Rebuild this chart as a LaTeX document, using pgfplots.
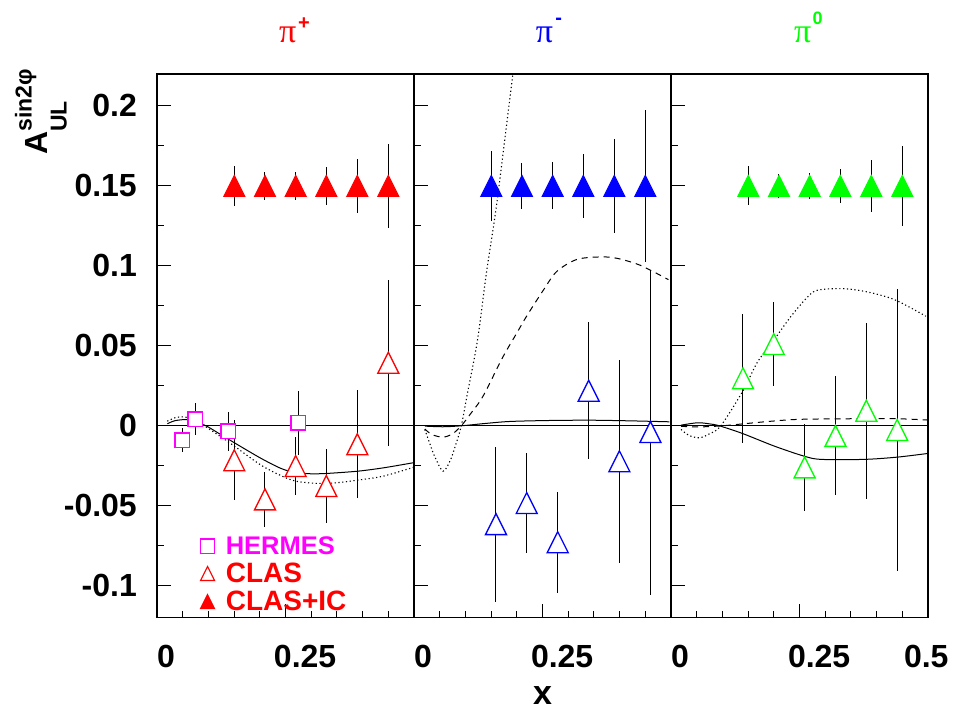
\documentclass[border=0pt]{standalone}
\usepackage{pgfplots}
\pgfplotsset{compat=1.18}
\usepackage{fontspec}
\setmainfont{Liberation Sans}
\newfontfamily\serifpi{Liberation Serif}
\newcommand\tickfont{\fontsize{32}{32}\selectfont\bfseries}
\definecolor{mag}{RGB}{255,0,255}
\definecolor{rred}{RGB}{255,0,0}
\definecolor{rblue}{RGB}{0,0,255}
\definecolor{rgreen}{RGB}{0,255,0}

\pgfdeclareplotmark{rtri}{%
  \pgfpathmoveto{\pgfqpoint{0pt}{\pgfplotmarksize}}%
  \pgfpathlineto{\pgfqpoint{-\pgfplotmarksize}{-\pgfplotmarksize}}%
  \pgfpathlineto{\pgfqpoint{\pgfplotmarksize}{-\pgfplotmarksize}}%
  \pgfpathclose\pgfusepathqfillstroke}

\pgfplotsset{
  panel/.style={
    scale only axis, width=257pt, height=543.7pt, anchor=south west,
    xmin=0, xmax=0.5, ymin=-0.12, ymax=0.22,
    axis line style={line width=1.6pt},
    xtick={0,0.25,0.5}, minor x tick num=4,
    ytick={-0.1,-0.05,0,0.05,0.1,0.15,0.2}, minor y tick num=1,
    major tick length=14pt, minor tick length=7pt,
    tick style={black, line width=1pt},
    xtick pos=bottom, ytick pos=left, tick align=inside,
    yticklabels={},
    xticklabel style={anchor=north, inner sep=0pt, yshift=-27pt, font=\tickfont},
    clip=true,
  },
  filltri/.style={only marks, mark=rtri, mark size=10.5pt,
    mark options={draw=#1, fill=#1, line width=1pt},
    error bars/.cd, y dir=both, y explicit,
    error bar style={black, line width=1pt}, error mark=none},
  opentri/.style={only marks, mark=rtri, mark size=10.5pt,
    mark options={draw=#1, fill=white, line width=1.3pt},
    error bars/.cd, y dir=both, y explicit,
    error bar style={black, line width=1pt}, error mark=none},
  solidc/.style={black, line width=1pt, smooth, no markers},
  dashc/.style={black, line width=1pt, smooth, no markers, dash pattern=on 6pt off 5pt},
  dotc/.style={black, line width=1.1pt, smooth, no markers, dash pattern=on 1.2pt off 2.6pt},
}

\begin{document}
\begin{tikzpicture}
\useasboundingbox (0,0) rectangle (959pt,711pt);

% ---------------- panel 1 : pi+ ----------------
\begin{axis}[panel, at={(157pt,93.3pt)},
  yticklabels={-0.1,-0.05,0,0.05,0.1,0.15,0.2},
  yticklabel style={anchor=east, inner sep=0pt, xshift=-20pt, font=\tickfont},
  xticklabels={\makebox[0pt][l]{0},\makebox[0pt][l]{\hspace{-11.5pt}0.25},{}},
  legend style={at={(axis cs:0.0837,-0.0692)}, anchor=north west, draw=none, fill=none,
    inner sep=0pt, row sep=7pt, column sep=11pt, font=\fontsize{28}{28}\selectfont\bfseries,
    nodes={inner sep=0pt}},
  legend cell align=left]
\addplot[black, line width=1pt, forget plot] coordinates {(0,0) (0.5,0)};
\addplot[solidc, forget plot] coordinates {
(0.020,0.00125) (0.035,0.0032) (0.0577,0.0039) (0.075,0.0025) (0.0966,-0.0002) (0.12,-0.0047)
(0.1505,-0.0106) (0.2004,-0.0200) (0.2400,-0.0265) (0.2698,-0.0294) (0.300,-0.0300)
(0.330,-0.0298) (0.390,-0.0284) (0.4403,-0.0263) (0.4987,-0.0231)};
\addplot[dotc, forget plot] coordinates {
(0.020,0.0029) (0.035,0.0050) (0.0519,0.0056) (0.070,0.0038) (0.092,0.0000) (0.12,-0.0060)
(0.1505,-0.0127) (0.2004,-0.0242) (0.2400,-0.0310) (0.2698,-0.0346) (0.311,-0.0360) (0.350,-0.0356)
(0.390,-0.0340) (0.440,-0.0315) (0.4987,-0.0260)};
% HERMES
\addplot[forget plot, only marks, mark=square*, mark size=7.3pt,
  mark options={draw=mag, fill=white, line width=1.3pt},
  error bars/.cd, y dir=both, y explicit, error bar style={black, line width=1pt}, error mark=none]
  table[x=x, y=y, y error=e] {
x y e
0.049 -0.0091 0.0075
0.0745 0.0040 0.0100
0.139 -0.0035 0.0120
0.275 0.0020 0.0200
};
% CLAS
\addplot[forget plot, opentri=rred] table[x=x, y=y, y error=e] {
x y e
0.1504 -0.0216 0.0250
0.2101 -0.0460 0.0174
0.2698 -0.0252 0.0180
0.3294 -0.0376 0.0233
0.3897 -0.0115 0.0336
0.4500 0.0394 0.0520
};
% CLAS+IC
\addplot[forget plot, filltri=rred] table[x=x, y=y, y error=e] {
x y e
0.1504 0.15 0.0127
0.2101 0.15 0.0089
0.2698 0.15 0.0090
0.3294 0.15 0.0120
0.3897 0.15 0.0170
0.4500 0.15 0.0265
};
\addlegendimage{only marks, mark=square*, mark size=7.3pt, mark options={draw=mag, fill=white, line width=1.3pt}}
\addlegendentry{\textcolor{mag}{\fontsize{25.5}{25.5}\selectfont HERMES}}
\addlegendimage{only marks, mark=rtri, mark size=7pt, mark options={draw=rred, fill=white, line width=1.1pt}}
\addlegendentry{\textcolor{rred}{CLAS}}
\addlegendimage{only marks, mark=rtri, mark size=7pt, mark options={draw=rred, fill=rred, line width=1pt}}
\addlegendentry{\textcolor{rred}{CLAS+IC}}
\end{axis}

% ---------------- panel 2 : pi- ----------------
\begin{axis}[panel, at={(414pt,93.3pt)},
  xticklabels={\makebox[0pt][l]{0},\makebox[0pt][l]{\hspace{-11.5pt}0.25},{}}]
\addplot[black, line width=1pt] coordinates {(0,0) (0.5,0)};
\addplot[solidc] coordinates {
(0.021,-0.0002) (0.0565,-0.0006) (0.092,0.0000) (0.140,0.0015) (0.186,0.0027) (0.260,0.0033)
(0.342,0.0035) (0.420,0.0031) (0.497,0.0025)};
\addplot[dashc] coordinates {
(0.021,-0.0020) (0.035,-0.0055) (0.0565,-0.0071) (0.075,-0.0050) (0.092,0.0000) (0.110,0.0075)
(0.1343,0.0185) (0.172,0.0425) (0.200,0.0580) (0.219,0.0685) (0.252,0.0850) (0.278,0.0966)
(0.3165,0.1040) (0.362,0.1056) (0.394,0.1048) (0.440,0.1004) (0.495,0.0914)};
\addplot[dotc] coordinates {
(0.021,-0.0023) (0.030,-0.0105) (0.040,-0.0190) (0.0564,-0.0284) (0.070,-0.0220) (0.080,-0.0130)
(0.092,0.0000) (0.105,0.0220) (0.1181,0.0435) (0.1265,0.0600) (0.1409,0.0956) (0.1603,0.1373)
(0.1798,0.1873) (0.1914,0.2175) (0.200,0.2400)};
\addplot[opentri=rblue] table[x=x, y=y, y error=e] {
x y e
0.1595 -0.0615 0.0484
0.2193 -0.0483 0.0310
0.2796 -0.0728 0.0316
0.3399 0.0219 0.0428
0.3996 -0.0222 0.0634
0.4600 -0.0039 0.1016
};
\addplot[filltri=rblue] table[x=x, y=y, y error=e] {
x y e
0.1504 0.15 0.0217
0.2101 0.15 0.0143
0.2698 0.15 0.0147
0.3294 0.15 0.0198
0.3897 0.15 0.0294
0.4500 0.15 0.0473
};
\end{axis}

% ---------------- panel 3 : pi0 ----------------
\begin{axis}[panel, at={(671pt,93.3pt)},
  xticklabels={\makebox[0pt][l]{0},\makebox[0pt][l]{\hspace{-11.5pt}0.25},\makebox[0pt][l]{\hspace{-24pt}0.5}}]
\addplot[black, line width=1pt] coordinates {(0,0) (0.5,0)};
\addplot[solidc] coordinates {
(0.0195,0.0004) (0.052,0.0019) (0.075,0.0012) (0.094,0.0000) (0.139,-0.0048) (0.201,-0.0127)
(0.259,-0.0190) (0.292,-0.0210) (0.376,-0.0210) (0.440,-0.0196) (0.4995,-0.0173)};
\addplot[dashc] coordinates {
(0.0195,-0.0003) (0.052,-0.0007) (0.100,0.0000) (0.182,0.0025) (0.2465,0.0040) (0.344,0.0044)
(0.440,0.0044) (0.4995,0.0036)};
\addplot[dotc] coordinates {
(0.0195,-0.0023) (0.035,-0.0060) (0.055,-0.0075) (0.075,-0.0050) (0.097,0.0000) (0.1395,0.0216)
(0.1685,0.0400) (0.201,0.0540) (0.2335,0.0685) (0.2658,0.0806) (0.285,0.0848) (0.331,0.0858)
(0.376,0.0841) (0.434,0.0790) (0.496,0.0685)};
\addplot[opentri=rgreen] table[x=x, y=y, y error=e] {
x y e
0.1400 0.0297 0.0402
0.2000 0.0511 0.0264
0.2600 -0.0260 0.0274
0.3200 -0.0063 0.0372
0.3800 0.0094 0.0550
0.4400 -0.0026 0.0884
};
\addplot[filltri=rgreen] table[x=x, y=y, y error=e] {
x y e
0.1504 0.15 0.0122
0.2101 0.15 0.0077
0.2698 0.15 0.0080
0.3294 0.15 0.0107
0.3897 0.15 0.0160
0.4500 0.15 0.0252
};
\end{axis}

% titles
\node[anchor=base west, inner sep=0pt, text=rred, font=\fontsize{34}{34}\selectfont\serifpi] at (279pt,668.3pt) {π};
\node[anchor=base west, inner sep=0pt, text=rred, font=\fontsize{20}{20}\selectfont\bfseries] at (298pt,681.7pt) {+};
\node[anchor=base west, inner sep=0pt, text=rblue, font=\fontsize{34}{34}\selectfont\serifpi] at (535.7pt,668.3pt) {π};
\node[anchor=base west, inner sep=0pt, text=rblue, font=\fontsize{20}{20}\selectfont\bfseries] at (555.2pt,686.6pt) {-};
\node[anchor=base west, inner sep=0pt, text=rgreen, font=\fontsize{34}{34}\selectfont\serifpi] at (794pt,668.3pt) {π};
\node[anchor=base west, inner sep=0pt, text=rgreen, font=\fontsize{18}{18}\selectfont\bfseries] at (812.3pt,686pt) {0};

% axis labels
\node[anchor=base, inner sep=0pt, font=\fontsize{34}{34}\selectfont\bfseries] at (542.5pt,6pt) {x};
\node[rotate=90, anchor=base west, inner sep=0pt, font=\fontsize{32}{32}\selectfont\bfseries] at (47pt,556pt)
  {A\makebox[0pt][l]{\raisebox{15.5pt}{\fontsize{23}{23}\selectfont sin2φ}}\raisebox{-19.5pt}{\fontsize{23}{23}\selectfont UL}};
\end{tikzpicture}
\end{document}
